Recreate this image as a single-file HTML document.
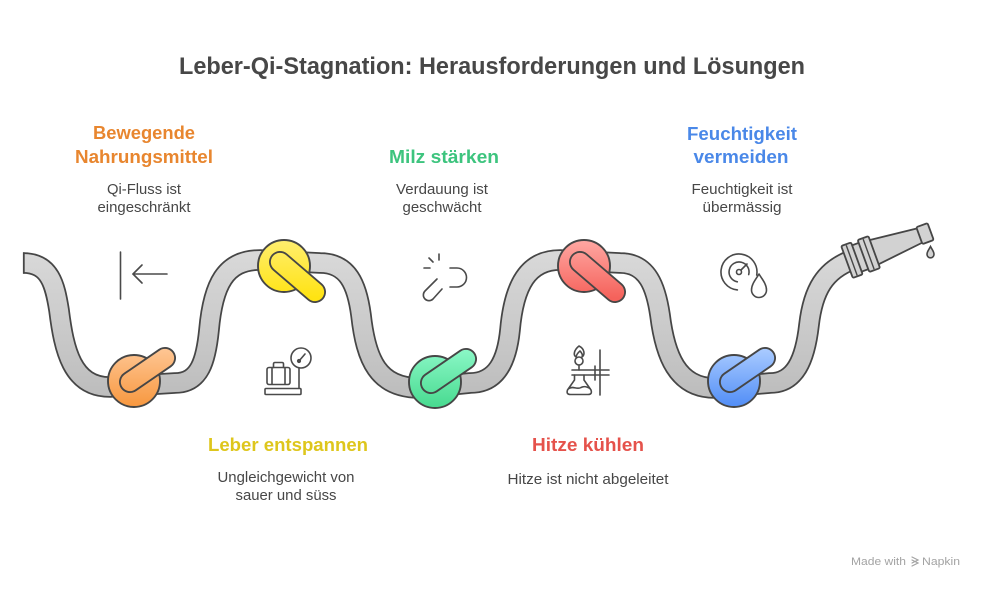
<!DOCTYPE html>
<html><head><meta charset="utf-8"><style>
html,body{margin:0;padding:0;background:#fff;}
svg{display:block;}
text{font-family:"Liberation Sans",Arial,sans-serif;}
</style></head><body>
<svg width="984" height="589" viewBox="0 0 984 589" xmlns="http://www.w3.org/2000/svg">
<defs>
<linearGradient id="tg" gradientUnits="userSpaceOnUse" x1="0" y1="245" x2="0" y2="400"><stop offset="0" stop-color="#dadada"/><stop offset="1" stop-color="#bcbcbc"/></linearGradient>
<linearGradient id="go" gradientUnits="userSpaceOnUse" x1="0" y1="350" x2="0" y2="410"><stop offset="0" stop-color="#FEC592"/><stop offset="1" stop-color="#F7953A"/></linearGradient>
<linearGradient id="gy" gradientUnits="userSpaceOnUse" x1="0" y1="238" x2="0" y2="298"><stop offset="0" stop-color="#FFEE72"/><stop offset="1" stop-color="#FFE312"/></linearGradient>
<linearGradient id="gg" gradientUnits="userSpaceOnUse" x1="0" y1="350" x2="0" y2="410"><stop offset="0" stop-color="#8AF7C6"/><stop offset="1" stop-color="#45D98D"/></linearGradient>
<linearGradient id="gr" gradientUnits="userSpaceOnUse" x1="0" y1="238" x2="0" y2="298"><stop offset="0" stop-color="#FFAAA5"/><stop offset="1" stop-color="#F5625B"/></linearGradient>
<linearGradient id="gb" gradientUnits="userSpaceOnUse" x1="0" y1="350" x2="0" y2="410"><stop offset="0" stop-color="#A8CAFF"/><stop offset="1" stop-color="#4C8AF6"/></linearGradient>
</defs>

<!-- Title -->
<text x="492" y="74" text-anchor="middle" font-size="24" font-weight="bold" fill="#474747" textLength="626" lengthAdjust="spacingAndGlyphs">Leber-Qi-Stagnation: Herausforderungen und Lösungen</text>

<!-- Tube -->
<g fill="none" stroke-linecap="butt" stroke-linejoin="round">
<path d="M23,263 C50,263 55,285 59,310 C64,350 72,387 110,387 L175,383 C200,383 206,360 209,330 C213,285 225,260 260,260 L320,263 C348,263 357,285 361,315 C366,360 378,388 420,388 L470,383 C497,383 507,360 510,330 C514,285 528,260 560,260 L620,263 C648,263 656,288 660,315 C665,355 677,388 715,388 L770,383 C795,383 805,360 809,325 C813,290 825,270 852,260" stroke="#464646" stroke-width="21.5"/>
<path d="M23,263 C50,263 55,285 59,310 C64,350 72,387 110,387 L175,383 C200,383 206,360 209,330 C213,285 225,260 260,260 L320,263 C348,263 357,285 361,315 C366,360 378,388 420,388 L470,383 C497,383 507,360 510,330 C514,285 528,260 560,260 L620,263 C648,263 656,288 660,315 C665,355 677,388 715,388 L770,383 C795,383 805,360 809,325 C813,290 825,270 852,260" stroke="url(#tg)" stroke-width="18"/>
</g>
<line x1="23.8" y1="252.3" x2="23.8" y2="273.7" stroke="#464646" stroke-width="1.8"/>

<!-- Nozzle -->
<g transform="translate(847,262) rotate(-20)" stroke="#464646" stroke-width="1.8" fill="#d2d2d2" stroke-linejoin="round">
<path d="M28,-13 L78,-7.5 L78,7.5 L28,13 Z"/>
<rect x="77" y="-9" width="12" height="18" rx="1.5"/>
<rect x="10" y="-14" width="8" height="28"/>
<rect x="0" y="-17" width="10.5" height="34" rx="1.5"/>
<rect x="17.5" y="-17" width="11.5" height="34" rx="1.5"/>
<line x1="5" y1="-16" x2="5" y2="16" stroke-width="1.4"/>
<line x1="23" y1="-16" x2="23" y2="16" stroke-width="1.4"/>
</g>
<path d="M930.5,246.5 C929,249.5 927,251.5 927,254.3 A3.5,3.5 0 0 0 934,254.3 C934,251.5 932,249.5 930.5,246.5 Z" fill="#d2d2d2" stroke="#464646" stroke-width="1.6"/>

<!-- Knots -->
<g stroke="#464646" stroke-width="1.9" stroke-linecap="round">
<circle cx="134" cy="381" r="26" fill="url(#go)"/>
<line x1="130" y1="382" x2="165" y2="358" stroke-width="22"/>
<line x1="130" y1="382" x2="165" y2="358" stroke="url(#go)" stroke-width="18.3"/>

<circle cx="284" cy="266" r="26" fill="url(#gy)"/>
<line x1="280" y1="262" x2="315" y2="292" stroke-width="22"/>
<line x1="280" y1="262" x2="315" y2="292" stroke="url(#gy)" stroke-width="18.3"/>

<circle cx="435" cy="382" r="26" fill="url(#gg)"/>
<line x1="431" y1="383" x2="466" y2="359" stroke-width="22"/>
<line x1="431" y1="383" x2="466" y2="359" stroke="url(#gg)" stroke-width="18.3"/>

<circle cx="584" cy="266" r="26" fill="url(#gr)"/>
<line x1="580" y1="262" x2="615" y2="292" stroke-width="22"/>
<line x1="580" y1="262" x2="615" y2="292" stroke="url(#gr)" stroke-width="18.3"/>

<circle cx="734" cy="381" r="26" fill="url(#gb)"/>
<line x1="730" y1="382" x2="765" y2="358" stroke-width="22"/>
<line x1="730" y1="382" x2="765" y2="358" stroke="url(#gb)" stroke-width="18.3"/>
</g>

<!-- Icons -->
<g fill="none" stroke="#4a4a4a" stroke-width="1.6" stroke-linecap="round" stroke-linejoin="round">
<!-- arrow -->
<line x1="120.5" y1="252" x2="120.5" y2="299"/>
<line x1="133" y1="274" x2="167" y2="274"/>
<polyline points="142,265 133,274 142,283"/>
<!-- broken link -->
<line x1="439" y1="254" x2="439" y2="260"/>
<line x1="429" y1="258" x2="433" y2="262"/>
<line x1="424" y1="268" x2="430" y2="268"/>
<path d="M450,268 L457,268 A9.5,9.5 0 0 1 457,287 L450,287"/>
<path d="M437,279 L425,291 A5.5,5.5 0 0 0 433,299 L442,289"/>
<!-- suitcase + scale -->
<circle cx="301" cy="358" r="10"/>
<line x1="299" y1="361" x2="305" y2="354"/>
<circle cx="299" cy="361" r="1.3" fill="#4a4a4a"/>
<rect x="267" y="367.5" width="23" height="17" rx="2"/>
<path d="M273.5,367.5 V364 Q273.5,362.5 275,362.5 H282 Q283.5,362.5 283.5,364 V367.5"/>
<line x1="272" y1="368" x2="272" y2="384"/>
<line x1="285" y1="368" x2="285" y2="384"/>
<line x1="299" y1="368" x2="299" y2="388"/>
<rect x="265" y="388.5" width="36" height="6" rx="1"/>
<!-- flask -->
<line x1="600" y1="350" x2="600" y2="395"/>
<line x1="572" y1="370" x2="609" y2="370"/>
<line x1="572" y1="375" x2="609" y2="375"/>
<line x1="595" y1="366" x2="595" y2="380"/>
<path d="M579,346 C574,350 573,355 576,357 C577,353 579,352 580,351 C582,353 583,355 582,357 C585,355 585,349 579,346 Z"/>
<circle cx="579" cy="361" r="4"/>
<line x1="579" y1="365" x2="579" y2="370"/>
<path d="M574.5,375 V380 L567.5,390 Q566,394.5 570.5,394.5 H588 Q592.5,394.5 591,390 L584,380 V375"/>
<path d="M569,388.5 C573,385.5 577,390 581,387.5 C584.5,385.5 587.5,387 590,388.5"/>
<!-- gauge + drop -->
<path d="M756.7,275.1 A18,18 0 1 0 737.4,289.9"/>
<path d="M748.7,274.6 A10,10 0 1 0 737.3,281.8"/>
<circle cx="739" cy="272" r="2.5"/>
<line x1="741" y1="270" x2="747" y2="264"/>
<path d="M759,274 C756,279 751.5,284 751.5,290 A7.5,7.5 0 0 0 766.5,290 C766.5,284 762,279 759,274 Z"/>
</g>

<!-- Labels top -->
<g font-weight="bold" font-size="18.5" text-anchor="middle">
<text x="144" y="139" fill="#E8862F" textLength="102" lengthAdjust="spacingAndGlyphs">Bewegende</text>
<text x="144" y="163" fill="#E8862F" textLength="138" lengthAdjust="spacingAndGlyphs">Nahrungsmittel</text>
<text x="444" y="163" fill="#3DC47E" textLength="110" lengthAdjust="spacingAndGlyphs">Milz stärken</text>
<text x="742" y="140" fill="#4A88E8" textLength="110" lengthAdjust="spacingAndGlyphs">Feuchtigkeit</text>
<text x="741" y="163" fill="#4A88E8" textLength="95" lengthAdjust="spacingAndGlyphs">vermeiden</text>
<text x="288" y="451" fill="#DEC61C" textLength="160" lengthAdjust="spacingAndGlyphs">Leber entspannen</text>
<text x="588" y="451" fill="#E5524B" textLength="112" lengthAdjust="spacingAndGlyphs">Hitze kühlen</text>
</g>
<g font-size="14.5" text-anchor="middle" fill="#474747">
<text x="144" y="194" textLength="74" lengthAdjust="spacingAndGlyphs">Qi-Fluss ist</text>
<text x="144" y="212" textLength="93" lengthAdjust="spacingAndGlyphs">eingeschränkt</text>
<text x="442" y="194" textLength="92" lengthAdjust="spacingAndGlyphs">Verdauung ist</text>
<text x="442" y="212" textLength="79" lengthAdjust="spacingAndGlyphs">geschwächt</text>
<text x="742" y="194" textLength="101" lengthAdjust="spacingAndGlyphs">Feuchtigkeit ist</text>
<text x="742" y="212" textLength="79" lengthAdjust="spacingAndGlyphs">übermässig</text>
<text x="286" y="482" textLength="137" lengthAdjust="spacingAndGlyphs">Ungleichgewicht von</text>
<text x="286" y="500" textLength="101" lengthAdjust="spacingAndGlyphs">sauer und süss</text>
<text x="588" y="484" textLength="161" lengthAdjust="spacingAndGlyphs">Hitze ist nicht abgeleitet</text>
</g>

<!-- Footer -->
<text x="851" y="565" font-size="11" fill="#a3a3a3" textLength="55" lengthAdjust="spacingAndGlyphs">Made with</text>
<g stroke="#a3a3a3" stroke-width="1.2" fill="none" stroke-linecap="round">
<path d="M912,557 L918,560 L912,563"/>
<path d="M912,560 L918,563 L912,566"/>
</g>
<text x="922" y="565" font-size="11" fill="#a3a3a3" textLength="38" lengthAdjust="spacingAndGlyphs">Napkin</text>
</svg>
</body></html>
